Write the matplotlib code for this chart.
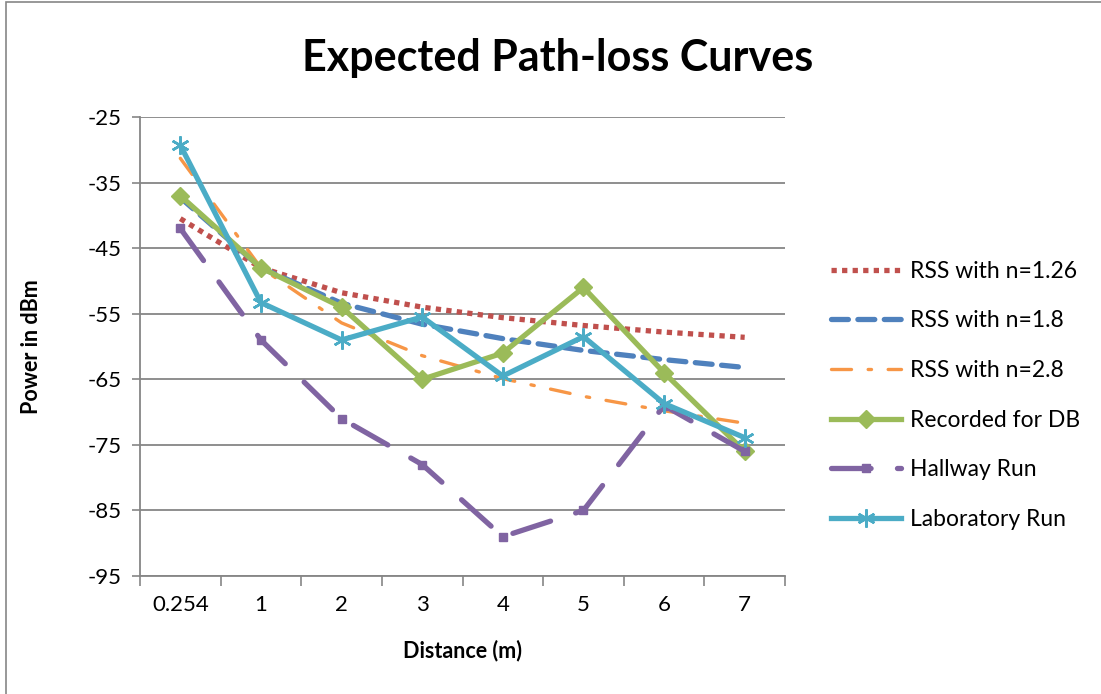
import matplotlib
matplotlib.use("Agg")
import matplotlib.pyplot as plt
from matplotlib.patches import Rectangle
import numpy as np

plt.rcParams['font.family'] = ['Lato', 'DejaVu Sans']

categories = ["0.254", "1", "2", "3", "4", "5", "6", "7"]
rss_126 = [-40.5, -48, -51.8, -54, -55.6, -56.8, -57.8, -58.6]
rss_18 = [-37.3, -48, -53.4, -56.6, -58.8, -60.6, -62.0, -63.2]
rss_28 = [-31.3, -48, -56.4, -61.4, -64.9, -67.6, -69.8, -71.7]
recorded_db = [-37, -48, -54, -65, -61, -51, -64, -76]
hallway = [-42, -59, -71, -78, -89, -85, -69, -76]
laboratory = [-29.3, -53.3, -59, -55.5, -64.5, -58.5, -68.7, -73.9]
yticks = [-25, -35, -45, -55, -65, -75, -85, -95]

fig = plt.figure(figsize=(11.01, 6.94), dpi=100)
fig.patches.append(Rectangle((6/1101, -0.01), 1.1, 1 - 2/694 + 0.01, transform=fig.transFigure,
                             fill=False, edgecolor='#868686', linewidth=1.2))
ax = fig.add_axes([140/1101, 1 - 576/694, (785 - 140)/1101, (576 - 117)/694])

x = np.arange(len(categories))
ax.plot(x, rss_126, color='#C0504D', lw=3.8, linestyle=(0, (1, 1)), dash_capstyle='butt',
        label='RSS with n=1.26', zorder=3)
ax.plot(x, rss_18, color='#4F81BD', lw=3.8, linestyle=(0, (3.2, 1.8)), dash_capstyle='round',
        label='RSS with n=1.8', zorder=3)
ax.plot(x, rss_28, color='#F79646', lw=2.4, linestyle=(0, (6, 5, 1, 5)), dash_capstyle='round',
        label='RSS with n=2.8', zorder=3)
ax.plot(x, recorded_db, color='#9BBB59', lw=3.8, marker='D', markersize=9,
        label='Recorded for DB', zorder=4)
ax.plot(x, hallway, color='#8064A2', lw=3.8, linestyle=(0, (7.5, 5)), dash_capstyle='round',
        marker='s', markersize=6, label='Hallway Run', zorder=4)
ax.plot(x, laboratory, color='#4BACC6', lw=3.8, marker=(6, 2, 0), markersize=13,
        markeredgewidth=1.8, label='Laboratory Run', zorder=5)

ax.set_xlim(-0.5, len(categories) - 0.5)
ax.set_ylim(-95, -25)
ax.set_yticks(yticks)
ax.set_yticklabels([str(v) for v in yticks], fontsize=16)
ax.set_xticks(x)
ax.set_xticklabels(categories, fontsize=16)
ax.set_xticks(np.arange(len(categories) + 1) - 0.5, minor=True)
ax.tick_params(axis='x', which='major', length=0, pad=14)
ax.tick_params(axis='x', which='minor', length=7, width=1.2, color='#868686')
ax.tick_params(axis='y', which='major', length=6, width=1.2, color='#868686', pad=7)
ax.yaxis.grid(True, color='#868686', linewidth=1.3)
ax.set_axisbelow(True)
for s in ['top', 'right']:
    ax.spines[s].set_visible(False)
for s in ['left', 'bottom']:
    ax.spines[s].set_color('#868686')
    ax.spines[s].set_linewidth(1.3)

ax.set_xlabel('Distance (m)', fontsize=15.5, fontweight='bold')
ax.set_ylabel('Power in dBm', fontsize=15.5, fontweight='bold')
ax.xaxis.set_label_coords(0.5, -(640 - 576) / 459)
ax.yaxis.set_label_coords(-(140 - 42) / 645, 0.5)
fig.text(558/1101, 1 - 58/694, 'Expected Path-loss Curves', fontsize=31, fontweight='bold',
         ha='center', va='center')

leg = fig.legend(loc='upper left', bbox_to_anchor=(810/1101, 1 - 240/694), frameon=False,
                 fontsize=16.5, labelspacing=1.25, handlelength=3.05, handletextpad=0.4)

fig.savefig('out.png', dpi=100)
